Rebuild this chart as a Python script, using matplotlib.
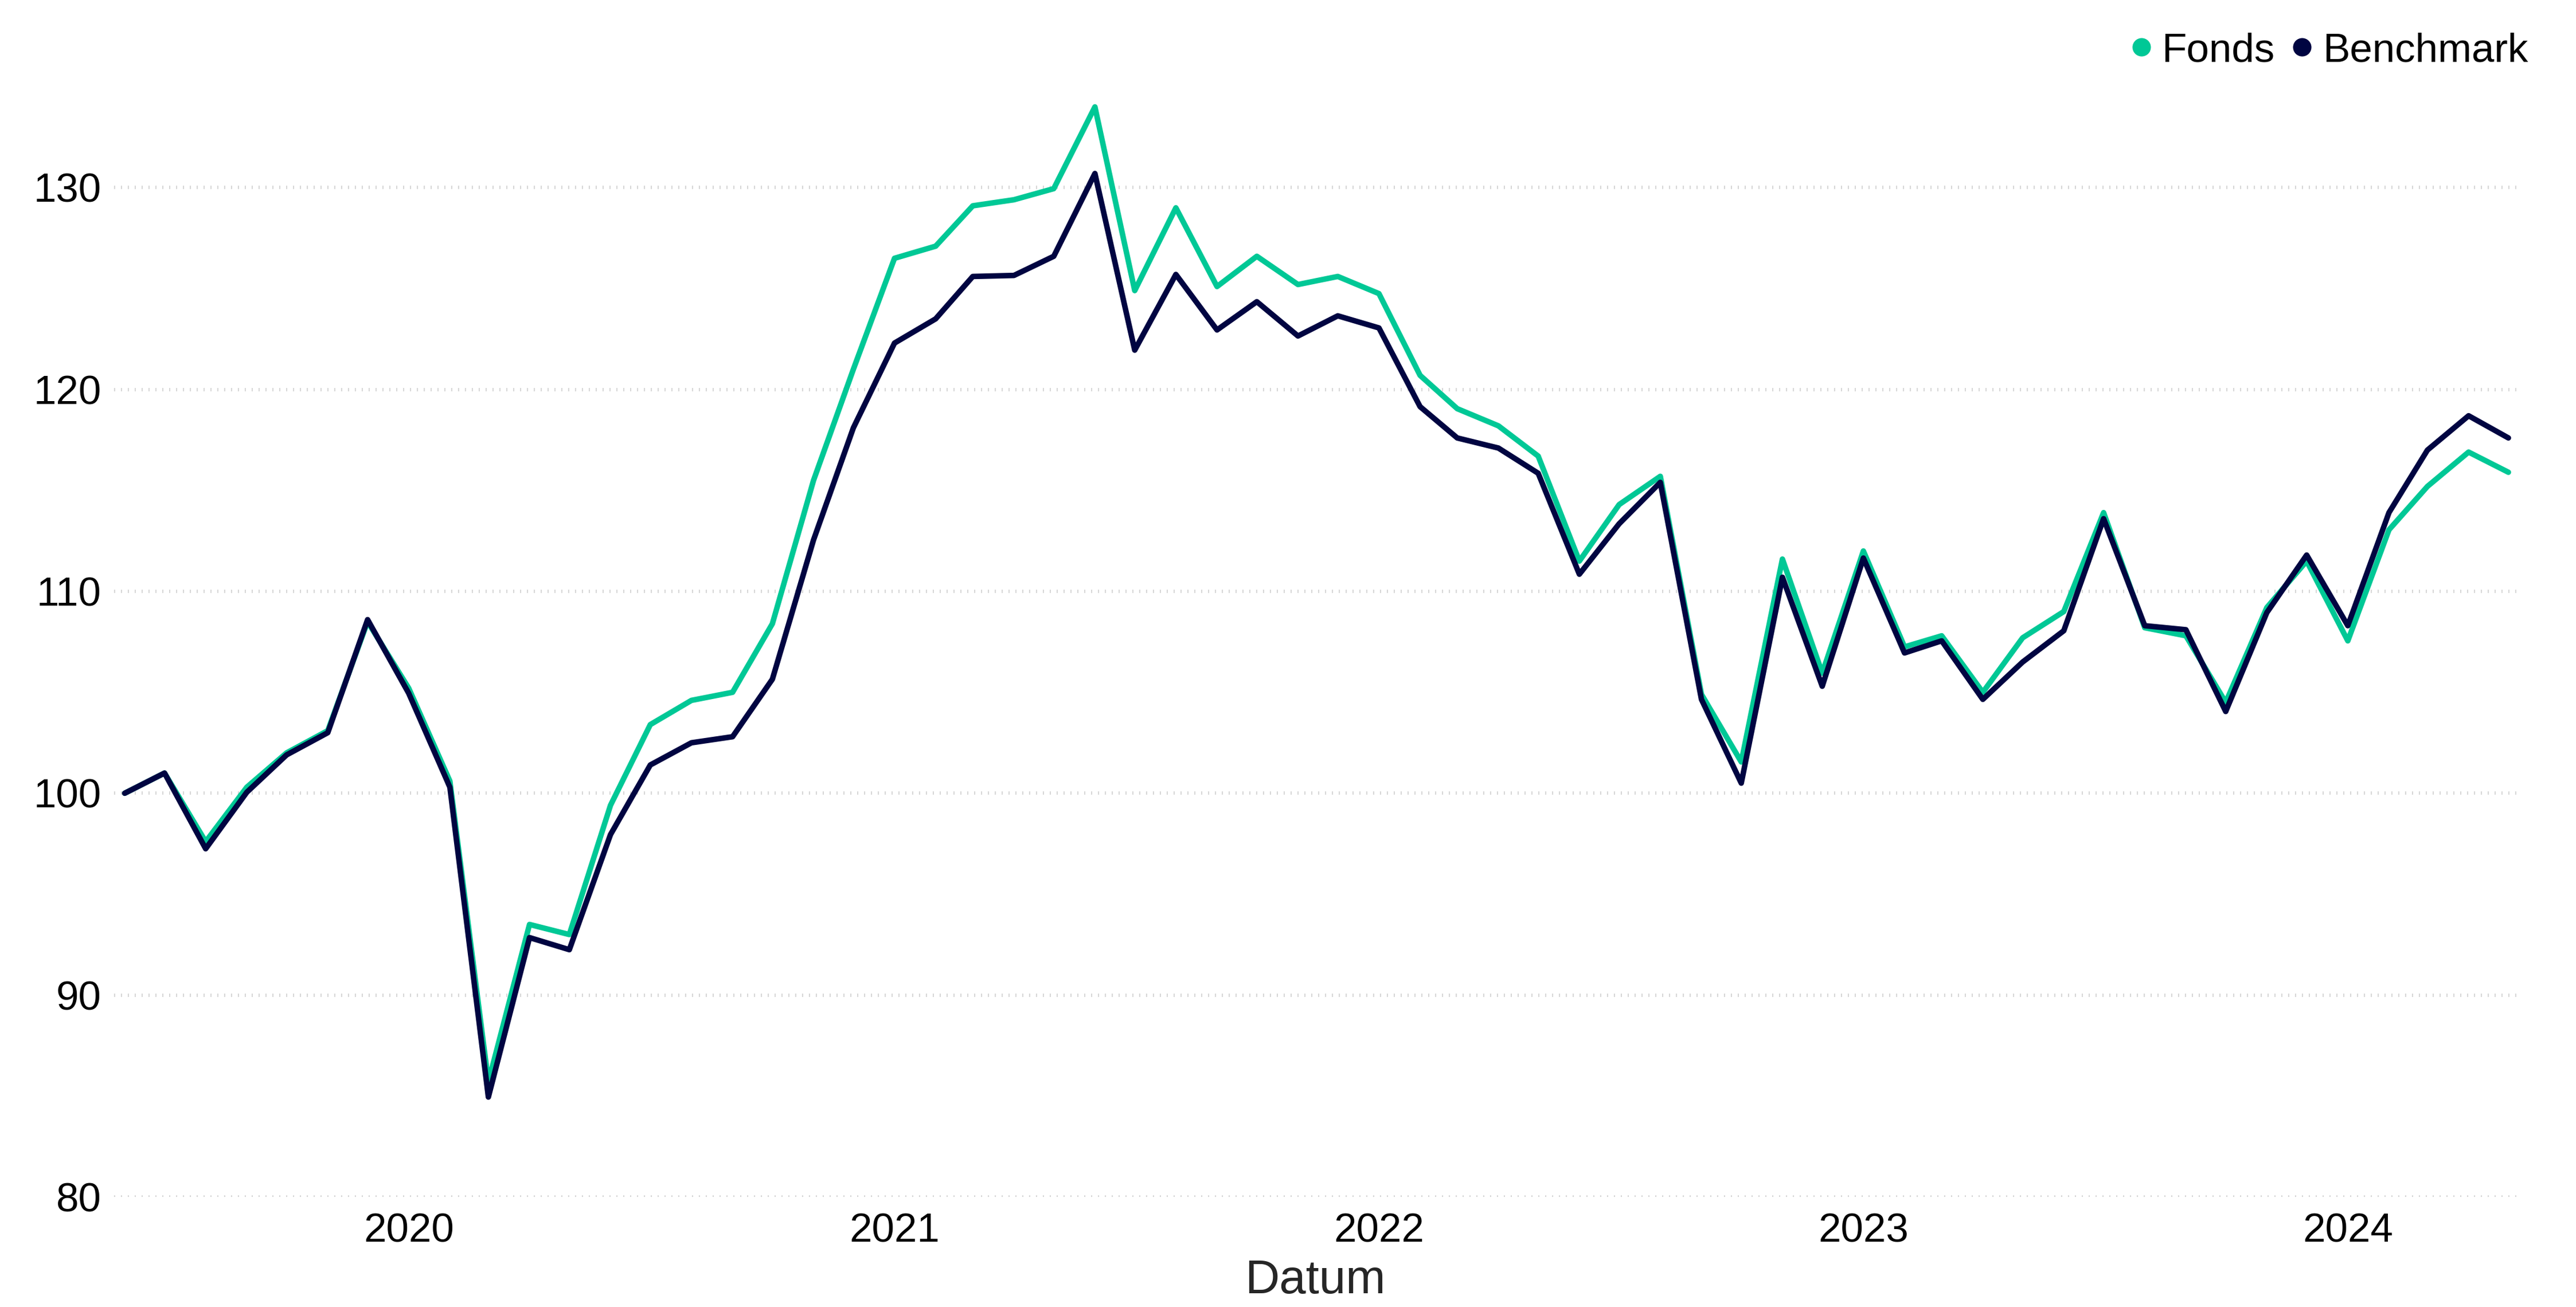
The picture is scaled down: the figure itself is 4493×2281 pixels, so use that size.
import matplotlib
matplotlib.use("Agg")
import matplotlib.pyplot as plt
import matplotlib.dates as mdates
import pandas as pd

plt.rcParams['font.family'] = ['Liberation Sans', 'DejaVu Sans']
plt.rcParams['lines.scale_dashes'] = False

# ---- data ----
start_month = "2019-06-01"
n_months = 60
dates = pd.date_range(start_month, periods=n_months, freq="MS")

fonds = [
    100.0, 101.0, 97.6, 100.3, 102.0, 103.1, 108.5,
    105.2, 100.6, 85.7, 93.5, 93.0, 99.4, 103.4, 104.6, 105.0, 108.4, 115.5, 121.0,
    126.5, 127.1, 129.1, 129.4, 129.95, 134.0, 124.9, 129.0, 125.1, 126.6, 125.2, 125.6,
    124.75, 120.7, 119.05, 118.2, 116.7, 111.5, 114.3, 115.7, 104.9, 101.55, 111.6, 105.95,
    112.0, 107.25, 107.8, 105.0, 107.7, 109.0, 113.9, 108.2, 107.8, 104.5, 109.2, 111.5,
    107.55, 113.05, 115.2, 116.9, 115.9,
]
benchmark = [
    100.0, 101.0, 97.25, 100.05, 101.9, 103.0, 108.6,
    104.95, 100.3, 84.95, 92.85, 92.25, 97.95, 101.4, 102.5, 102.8, 105.65, 112.55, 118.1,
    122.3, 123.5, 125.6, 125.65, 126.6, 130.7, 121.95, 125.7, 122.95, 124.35, 122.65, 123.65,
    123.05, 119.15, 117.6, 117.1, 115.85, 110.85, 113.35, 115.4, 104.65, 100.5, 110.7, 105.3,
    111.65, 106.95, 107.55, 104.65, 106.5, 108.05, 113.6, 108.3, 108.1, 104.05, 108.95, 111.8,
    108.3, 113.9, 117.0, 118.7, 117.6,
]
series_names = ["Fonds", "Benchmark"]
y_ticks = [80, 90, 100, 110, 120, 130]
x_label = "Datum"

# ---- styling ----
GREEN = "#00C896"
NAVY = "#000541"

W, H, DPI = 4493, 2281, 300
fig = plt.figure(figsize=(W / DPI, H / DPI), dpi=DPI)
ax = fig.add_axes([199 / W, 192 / H, (4389 - 199) / W, (2089 - 151.3) / H])

ax.plot(dates, fonds, color=GREEN, lw=2.3, solid_joinstyle="round",
        solid_capstyle="round", label=series_names[0], zorder=3)
ax.plot(dates, benchmark, color=NAVY, lw=2.3, solid_joinstyle="round",
        solid_capstyle="round", label=series_names[1], zorder=4)

ax.set_ylim(80, 135)
ax.set_xlim(dates[0] - pd.Timedelta(days=8), dates[-1] + pd.Timedelta(days=6))
ax.set_yticks(y_ticks)
ax.xaxis.set_major_locator(mdates.YearLocator())
ax.xaxis.set_major_formatter(mdates.DateFormatter("%Y"))

for s in ax.spines.values():
    s.set_visible(False)
ax.tick_params(axis="both", length=0, labelsize=17, colors="black")
ax.tick_params(axis="y", pad=5.3)
ax.tick_params(axis="x", pad=6.6)

ax.yaxis.grid(True, color="#d4d4d4", linewidth=1.4, linestyle=(0, (0.45, 2.43)))
ax.xaxis.grid(False)
ax.set_axisbelow(True)

ax.set_xlabel(x_label, fontsize=20, color="#262626", va="baseline")
ax.xaxis.set_label_coords(0.5, -0.0866)

handles = [
    plt.Line2D([], [], ls="none", marker="o", markersize=7.7, color=GREEN, markeredgewidth=0),
    plt.Line2D([], [], ls="none", marker="o", markersize=7.7, color=NAVY, markeredgewidth=0),
]
fig.legend(handles, series_names, loc="center right", bbox_to_anchor=(4409 / W, 1 - 89 / H),
           ncol=2, frameon=False, fontsize=17, borderpad=0, borderaxespad=0,
           handlelength=0.5, handletextpad=0.25, columnspacing=0.43)

fig.savefig("out.png", dpi=DPI, facecolor="white")
